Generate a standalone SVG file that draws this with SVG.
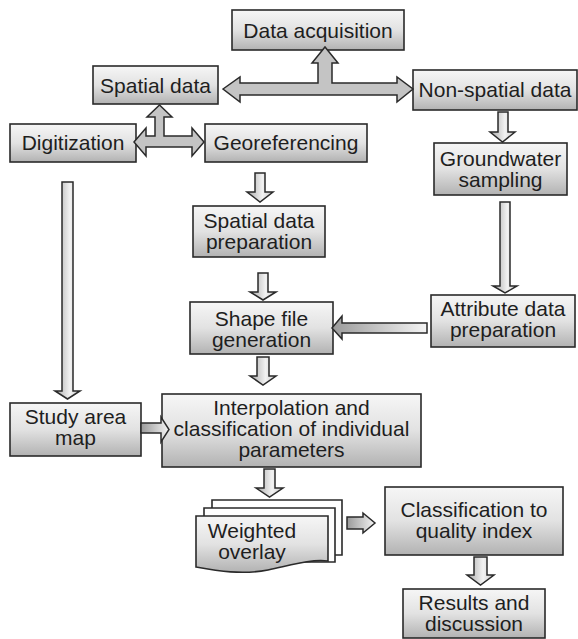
<svg xmlns="http://www.w3.org/2000/svg" width="578" height="639" viewBox="0 0 578 639">
<defs>
<linearGradient id="boxg" x1="0" y1="0" x2="0" y2="1">
<stop offset="0" stop-color="#f6f6f6"/>
<stop offset="0.5" stop-color="#e2e2e2"/>
<stop offset="1" stop-color="#b2b2b2"/>
</linearGradient>
<linearGradient id="vg" x1="0" y1="0" x2="1" y2="0">
<stop offset="0" stop-color="#a8a8a8"/>
<stop offset="0.6" stop-color="#f2f2f2"/>
<stop offset="1" stop-color="#c8c8c8"/>
</linearGradient>
<linearGradient id="hg" x1="0" y1="0" x2="1" y2="0">
<stop offset="0" stop-color="#9a9a9a"/>
<stop offset="1" stop-color="#f4f4f4"/>
</linearGradient>
</defs>
<style>
.box{fill:url(#boxg);stroke:#2a2a2a;stroke-width:1.6}
.sheet{fill:#ffffff;stroke:#2a2a2a;stroke-width:1.6}
.t{font-family:"Liberation Sans",Arial,sans-serif;font-size:21px;fill:#1e1e1e;text-anchor:middle}
.ar{fill:#c4c4c4;stroke:#2a2a2a;stroke-width:1.5;stroke-linejoin:miter}
.av{fill:url(#vg);stroke:#2a2a2a;stroke-width:1.5}
.ah{fill:url(#hg);stroke:#2a2a2a;stroke-width:1.5}
</style>
<g id="data-acquisition"><rect class="box" x="232" y="10" width="172" height="40"/><text class="t" x="318" y="38">Data acquisition</text></g>
<g id="spatial-data"><rect class="box" x="93" y="66" width="125" height="38"/><text class="t" x="155.5" y="93">Spatial data</text></g>
<g id="non-spatial-data"><rect class="box" x="413" y="70" width="164" height="40"/><text class="t" x="495" y="97">Non-spatial data</text></g>
<g id="digitization"><rect class="box" x="10" y="124" width="126" height="38"/><text class="t" x="73" y="150">Digitization</text></g>
<g id="georeferencing"><rect class="box" x="205" y="124" width="162" height="38"/><text class="t" x="286" y="150">Georeferencing</text></g>
<g id="groundwater-sampling"><rect class="box" x="434" y="143" width="133" height="52"/><text class="t" x="500.5" y="166">Groundwater</text><text class="t" x="500.5" y="187">sampling</text></g>
<g id="spatial-data-preparation"><rect class="box" x="193" y="206" width="132" height="51"/><text class="t" x="259" y="228">Spatial data</text><text class="t" x="259" y="249">preparation</text></g>
<g id="shape-file-generation"><rect class="box" x="190" y="302" width="143" height="52"/><text class="t" x="261.5" y="326">Shape file</text><text class="t" x="261.5" y="347">generation</text></g>
<g id="attribute-data-preparation"><rect class="box" x="431" y="295" width="144" height="52"/><text class="t" x="503" y="316">Attribute data</text><text class="t" x="503" y="337">preparation</text></g>
<g id="study-area-map"><rect class="box" x="10" y="403" width="131" height="53"/><text class="t" x="75.5" y="424">Study area</text><text class="t" x="75.5" y="445">map</text></g>
<g id="interpolation"><rect class="box" x="162" y="394" width="259" height="73"/><text class="t" x="291.5" y="415">Interpolation and</text><text class="t" x="291.5" y="436">classification of individual</text><text class="t" x="291.5" y="457">parameters</text></g>
<g id="weighted-overlay">
<path class="sheet" d="M212,500 H342 V555 H212 Z"/>
<path class="sheet" d="M204,508 H335 V562 H204 Z"/>
<path class="box" d="M196,516 H328 V561 C310,559 292,565 268,570 C242,575 218,571 196,567 Z"/>
<text class="t" x="252" y="538">Weighted</text><text class="t" x="252" y="559">overlay</text>
</g>
<g id="classification-quality-index"><rect class="box" x="385" y="487" width="178" height="68"/><text class="t" x="474" y="517">Classification to</text><text class="t" x="474" y="538">quality index</text></g>
<g id="results-discussion"><rect class="box" x="403" y="589" width="142" height="49"/><text class="t" x="474" y="610">Results and</text><text class="t" x="474" y="631">discussion</text></g>
<g id="connectors">
<path class="ar" d="M223,89 L240,77 L240,83 L318,83 L318,63 L312,63 L325,47 L338,63 L332,63 L332,83 L397,83 L397,77 L413,89 L397,102 L397,95 L240,95 L240,102 Z"/>
<path class="ar" d="M134,142 L146,128 L146,136 L155,136 L155,117 L147,117 L159.5,105 L172,117 L164,117 L164,136 L192,136 L192,128 L204,142 L192,156 L192,147 L146,147 L146,156 Z"/>
<path class="av" d="M498,112 H508 V132 H515 L502.5,142 L490,132 H498 Z"/>
<path class="av" d="M62,182 H73 V391 H80 L67.5,399 L55,391 H62 Z"/>
<path class="av" d="M255,173 H265 V192 H273 L260,202 L247,192 H255 Z"/>
<path class="av" d="M258,273 H268 V292 H276 L263,300 L250,292 H258 Z"/>
<path class="av" d="M257,357 H269 V376 H276 L263,385 L250,376 H257 Z"/>
<path class="av" d="M500,202 H510 V286 H517 L505,293 L493,286 H500 Z"/>
<path class="ah" d="M427,323 V333 H342 V339 L332,328 L342,316 V323 Z"/>
<path class="ah" d="M141,423 H161 V417 L169,429.5 L161,442 V433 H141 Z"/>
<path class="av" d="M264,469 H275 V488 H283 L269.5,497 L256,488 H264 Z"/>
<path class="ah" d="M347,517 H363 V513 L375,523 L363,533 V529 H347 Z"/>
<path class="av" d="M474,557 H487 V575 H494 L480.5,585 L467,575 H474 Z"/>
</g>
</svg>
